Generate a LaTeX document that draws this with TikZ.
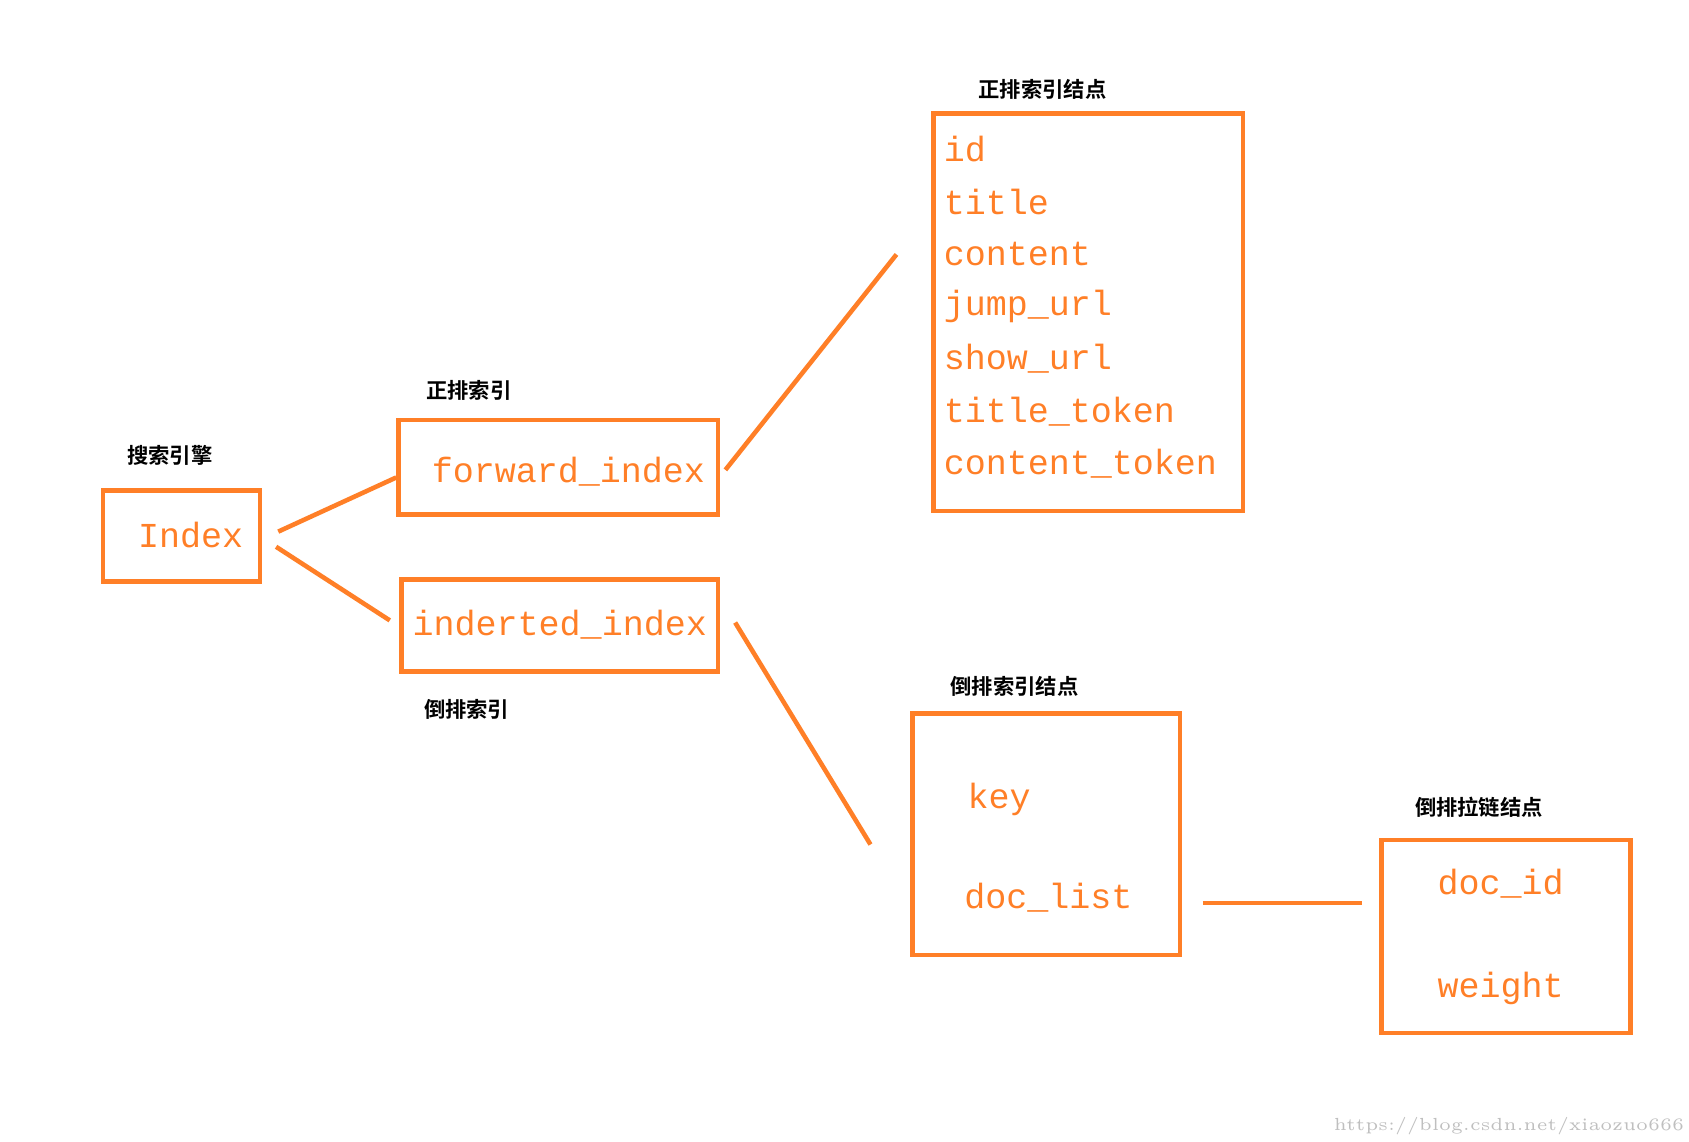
\documentclass[tikz,border=0pt]{standalone}
\usepackage{fontspec}
\setmonofont{Liberation Mono}
\newfontfamily\cjk{Noto Sans CJK SC}[BoldFont={Noto Sans CJK SC Bold}]
\definecolor{po}{HTML}{FF7F27}
\begin{document}
\begin{tikzpicture}[x=0.01cm,y=-0.01cm,
  bx/.style={draw=po,line width=1.2pt,inner sep=0},
  tx/.style={text=po,font=\ttfamily\fontsize{9.2pt}{11pt}\selectfont,inner sep=0},
  lb/.style={font=\cjk\bfseries\fontsize{5.6pt}{7pt}\selectfont,inner sep=0},
  ln/.style={draw=po,line width=1.2pt}]
\useasboundingbox (0,0) rectangle (1560,1054);
\fill[white] (0,0) rectangle (1560,1054);
% boxes
\draw[bx] (95,453) rectangle (240,537);
\draw[bx] (368,388) rectangle (663,475);
\draw[bx] (371,535) rectangle (663,620);
\draw[bx] (862,105) rectangle (1148,472);
\draw[bx] (843,659) rectangle (1090,882);
\draw[bx] (1276,776) rectangle (1506,954);
% texts
\node[tx] (idx) at (176,494) {Index};
\node[tx] (fwd) at (525,436) {forward\_index};
\node[tx] (inv) at (517,577) {inderted\_index};
\foreach \t/\y [count=\i] in {id/138,title/187,content/235,jump\_url/283,show\_url/331,title\_token/380,content\_token/428}
  \node[tx,anchor=west] (f\i) at (871,\y) {\t};
\node[tx,anchor=west] (key) at (893,738) {key};
\node[tx,anchor=west] (dl) at (890,829) {doc\_list};
\node[tx,anchor=west] (did) at (1327,816) {doc\_id};
\node[tx,anchor=west] (wt) at (1327,913) {weight};
% labels
\node[lb] (l1) at (157,421) {搜索引擎};
\node[lb] (l2) at (433,361) {正排索引};
\node[lb] (l3) at (431,655) {倒排索引};
\node[lb] (l4) at (963,83) {正排索引结点};
\node[lb] (l5) at (937,634) {倒排索引结点};
\node[lb] (l6) at (1366,746) {倒排拉链结点};
% connectors
\coordinate (a1) at (257,491); \coordinate (a2) at (366,441);
\coordinate (b1) at (255,505); \coordinate (b2) at (360,573);
\coordinate (c1) at (670,434); \coordinate (c2) at (828,235);
\coordinate (d1) at (679,575); \coordinate (d2) at (804,780);
\coordinate (e1) at (1111,834); \coordinate (e2) at (1258,834);
\draw[ln] (a1) -- (a2);
\draw[ln] (b1) -- (b2);
\draw[ln] (c1) -- (c2);
\draw[ln] (d1) -- (d2);
\draw[ln] (e1) -- (e2);
\node[text=black!25,font=\rmfamily\fontsize{4.6pt}{6pt}\selectfont,anchor=east,inner sep=0] (wm) at (1556,1040) {https://blog.csdn.net/xiaozuo666};
\end{tikzpicture}
\end{document}
